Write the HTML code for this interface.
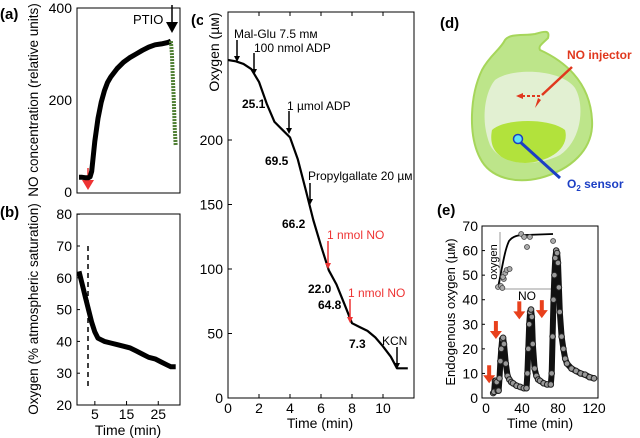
<!DOCTYPE html>
<html><head><meta charset="utf-8"><style>
html,body{margin:0;padding:0;background:#fff;}
svg{display:block;font-family:"Liberation Sans",sans-serif;}
</style></head><body>
<svg id="fig" width="640" height="438" viewBox="0 0 640 438">
<g id="static">
 <text x="0" y="19" font-size="15" font-weight="bold">(a)</text>
 <text x="0" y="217" font-size="15" font-weight="bold">(b)</text>
 <text x="191" y="25" font-size="15" font-weight="bold">(c)</text>
 <text x="440" y="28" font-size="15" font-weight="bold">(d)</text>
 <text x="437" y="215" font-size="15" font-weight="bold">(e)</text>

 <rect x="77" y="8" width="103" height="185" fill="none" stroke="#000" stroke-width="1"/>
 <rect x="77" y="214" width="103" height="191" fill="none" stroke="#000" stroke-width="1"/>
 <rect x="228" y="12" width="186" height="386" fill="none" stroke="#000" stroke-width="1"/>
 <rect x="482" y="226" width="116" height="172" fill="none" stroke="#000" stroke-width="1"/>

 <text transform="translate(38,100) rotate(-90)" text-anchor="middle" font-size="13.5">NO concentration (relative units)</text>
 <text transform="translate(38,309) rotate(-90)" text-anchor="middle" font-size="13.5">Oxygen (% atmospheric saturation)</text>
 <text x="128" y="435" text-anchor="middle" font-size="14">Time (min)</text>
 <rect x="203" y="10" width="22" height="92" fill="#fff"/>
 <text transform="translate(219,52) rotate(-90)" text-anchor="middle" font-size="14">Oxygen (µм)</text>
 <text x="320" y="428" text-anchor="middle" font-size="14">Time (min)</text>
 <text transform="translate(455,312) rotate(-90)" text-anchor="middle" font-size="13">Endogenous oxygen (µм)</text>
 <text x="540" y="428" text-anchor="middle" font-size="14">Time (min)</text>

 <text x="133" y="24" font-size="13">PTIO</text>
 <line x1="172" y1="5" x2="172" y2="24" stroke="#000" stroke-width="1.5"/>
 <polygon points="166,22 178,22 172,33" fill="#000"/>
 <line x1="88" y1="168" x2="88" y2="182" stroke="#e33" stroke-width="1.5"/>
 <polygon points="82,180 94,180 88,190" fill="#e33"/>

 <line x1="88" y1="246" x2="88" y2="390" stroke="#000" stroke-width="1.5" stroke-dasharray="5,4"/>

 <g>
  <path d="M505,40 C510,33 525,36 535,34 C545,31 550,30 548,38 C542,44 538,46 540,50 C562,60 590,80 592,120 C594,150 570,170 540,178 C515,184 490,178 480,158 C468,135 470,95 482,70 C490,55 500,50 505,40 Z" fill="#bde58a" stroke="#a6d65a" stroke-width="2"/>
  <path d="M495,80 C510,68 560,68 575,88 C585,105 582,140 560,155 C535,168 500,165 490,145 C480,120 485,92 495,80 Z" fill="#e2f0d2"/>
  <path d="M492,130 C505,118 550,118 565,130 C570,148 550,162 525,163 C500,162 488,150 492,130 Z" fill="#b2e23c"/>
 </g>
 <line x1="518" y1="140" x2="560" y2="178" stroke="#1c3fc4" stroke-width="3"/>
 <circle cx="518" cy="139" r="4.5" fill="#5fe4f5" stroke="#1c3fc4" stroke-width="1.5"/>
 <text x="567" y="188" font-size="12" font-weight="bold" fill="#1c3fc4">O<tspan font-size="8" dy="3">2</tspan><tspan dy="-3">  sensor</tspan></text>
 <text x="567" y="59" font-size="12" font-weight="bold" fill="#e0381e">NO injector</text>
 <line x1="572" y1="67" x2="542" y2="95" stroke="#e0381e" stroke-width="2.5"/>
 <line x1="540" y1="96" x2="522" y2="96" stroke="#e0381e" stroke-width="2" stroke-dasharray="3,2"/>
 <polygon points="516,96 523,93 523,99" fill="#e0381e"/>
 <polygon points="535,108 538,98 541,100" fill="#e0381e"/>

 <g>
  <line x1="500" y1="232" x2="500" y2="289" stroke="#999" stroke-width="1"/>
  <line x1="500" y1="289" x2="552" y2="289" stroke="#999" stroke-width="1"/>
  <text transform="translate(497,262) rotate(-90)" text-anchor="middle" font-size="11">oxygen</text>
  <text x="518" y="300" font-size="12">NO</text>
  <path d="M498,287 C502,270 504,252 509,241 C513,236 518,235 525,235 L553,234" fill="none" stroke="#000" stroke-width="1.8"/>
 </g>
</g>
<g id="marks"></g>
</svg>
<script>
// ---- panel (a) data ----
const aTime = [0,1,2,3,3.5,4,5,6,7,8,9,10,12,14,16,18,20,22,24,26,28,29];
const aNO = [32,32,31,31,33,45,110,160,195,220,238,250,268,282,292,300,308,315,320,322,325,328];
const aPtioTime = [29,29.3,29.6,29.9,30.2,30.5];
const aPtioNO = [328,300,250,200,140,100];
const aYTicks = [0,200,400];
// ---- panel (b) data ----
const bTime = [0,1,2,3,4,5,6,7,8,10,12,14,16,18,20,22,24,26,28,29,30.5];
const bO2 = [62,58,54,50,46,43,41,40.5,40,39.5,39,38.5,38,37,36,35,34.5,33.5,32.5,32,32];
const bYTicks = [20,30,40,50,60,70,80];
const bXTicks = [5,15,25];
// ---- panel (c) data ----
const cTime = [0,0.5,1,1.5,2,2.5,3,3.5,4,4.5,5,5.5,6,6.5,7,7.5,8,8.5,9,9.5,10,10.5,10.9,11.2,11.6];
const cO2 = [262,261,259,255,245,228,214,208,202,185,162,138,118,99,88,73,58,55,52,47,40,32,23,23,23];
const cYTicks = [0,50,100,150,200];
const cXTicks = [0,2,4,6,8,10];
// ---- panel (e) data ----
const eTime = [8,9,10,11,12,13,14,15,16,17,18,19,20,22,24,26,28,30,34,38,42,45,46,47,48,49,50,51,52,54,56,58,60,64,68,72,73,74,75,76,77,78,79,80,81,82,84,86,88,90,95,100,105,110,115,120];
const eO2 = [2,2.5,7,7,6.5,3,3,8,15,20,24,24.5,22,14,9,7.5,6.5,6,5,4.5,4,4,10,20,30,35,36,33,22,12,9,7.5,7,6,5.5,5.5,10,25,40,50,57,60,59,55,45,35,25,20,16,14,12,11,10,9.5,8.5,8];
const eYTicks = [0,10,20,30,40,50,60,70];
const eXTicks = [0,40,80,120];
const eArrowTimes = [3.5,11,37,62];
const eArrowValues = [6,24,32,32.5];
const insetNO = [0,1,1.5,2,1.7,2.5,3,4,8,9,10,11,19];
const insetO2 = [2,3,1,10,12,16,19,20,55,52,42,52,48];

const ax = t => 79 + t*3.17;
const ay = v => 192 - v*0.46;
const by = v => 405 - (v-20)*3.18;
const cx = t => 228 + t*15.5;
const cy = v => 398 - v*1.29;
const ex = t => 486 + t*0.9;
const ey = v => 398 - v*2.457;
const ix = n => 498 + n*2.9;
const iy = v => 289 - v*1.0;

const NS = "http://www.w3.org/2000/svg";
const marks = document.getElementById('marks');
function mk(tag, attrs){const e=document.createElementNS(NS,tag);for(const k in attrs)e.setAttribute(k,attrs[k]);marks.appendChild(e);return e;}
function pathD(xs,ys,fx,fy){return xs.map((x,i)=>(i?'L':'M')+fx(x).toFixed(1)+','+fy(ys[i]).toFixed(1)).join(' ');}

let p = mk('path',{d:pathD(aTime,aNO,ax,ay),fill:'none',stroke:'#000','stroke-width':5,'stroke-linejoin':'round'});


p = mk('path',{d:pathD(aPtioTime,aPtioNO,ax,ay),fill:'none',stroke:'#4f7f33','stroke-width':4,'stroke-dasharray':'2,1'});


aYTicks.forEach(v=>{
 const t=mk('text',{x:72,y:ay(v)+5,'text-anchor':'end','font-size':14});t.textContent=v;
 
 
});
p = mk('path',{d:pathD(bTime,bO2,ax,by),fill:'none',stroke:'#000','stroke-width':5,'stroke-linejoin':'round'});


bYTicks.forEach(v=>{
 const t=mk('text',{x:72,y:by(v)+5,'text-anchor':'end','font-size':14});t.textContent=v;
 
 
 mk('line',{x1:77,x2:80,y1:by(v),y2:by(v),stroke:'#000'});
});
bXTicks.forEach(v=>{
 const t=mk('text',{x:ax(v),y:419,'text-anchor':'middle','font-size':14});t.textContent=v;
 
 
 mk('line',{x1:ax(v),x2:ax(v),y1:405,y2:401,stroke:'#000'});
});
p = mk('path',{d:pathD(cTime,cO2,cx,cy),fill:'none',stroke:'#000','stroke-width':2.2,'stroke-linejoin':'round'});


cYTicks.forEach(v=>{
 const t=mk('text',{x:223,y:cy(v)+5,'text-anchor':'end','font-size':14});t.textContent=v;
 
 
 mk('line',{x1:228,x2:232,y1:cy(v),y2:cy(v),stroke:'#000'});
});
cXTicks.forEach(v=>{
 const t=mk('text',{x:cx(v),y:413,'text-anchor':'middle','font-size':14});t.textContent=v;
 
 
 mk('line',{x1:cx(v),x2:cx(v),y1:398,y2:394,stroke:'#000'});
 mk('line',{x1:cx(v),x2:cx(v),y1:12,y2:16,stroke:'#000'});
});
const ann = [
 [234,38,'Mal-Glu 7.5 mм','#000',237,40,62],
 [254,52,'100 nmol ADP','#000',254,53,75],
 [287,110,'1 µmol ADP','#000',289,111,134],
 [308,180,'Propylgallate 20 µм','#000',310,183,205],
 [327,239,'1 nmol NO','#e33',328,241,269],
 [348,297,'1 nmol NO','#e33',350,299,323],
 [382,345,'KCN','#000',397,347,369]
];
ann.forEach(a=>{
 const t=mk('text',{x:a[0],y:a[1],'font-size':12,fill:a[3]});t.textContent=a[2];
 
 
 mk('line',{x1:a[4],x2:a[4],y1:a[5],y2:a[6]-5,stroke:a[3],'stroke-width':1.5});
 mk('polygon',{points:`${a[4]-3},${a[6]-6} ${a[4]+3},${a[6]-6} ${a[4]},${a[6]}`,fill:a[3]});
});
const rates=[[242,108,'25.1'],[265,165,'69.5'],[282,228,'66.2'],[308,293,'22.0'],[318,309,'64.8'],[349,348,'7.3']];
rates.forEach(r=>{
 const t=mk('text',{x:r[0],y:r[1],'font-size':12,'font-weight':'bold'});t.textContent=r[2];
 
 
});
p = mk('path',{d:pathD(eTime,eO2,ex,ey),fill:'none',stroke:'#111','stroke-width':6,'stroke-linejoin':'round'});


eTime.forEach((t,i)=>{
 const c=mk('circle',{cx:ex(t),cy:ey(eO2[i]),r:2.8,fill:'#999',stroke:'#222','stroke-width':1});
 
 
});
eYTicks.forEach(v=>{
 const t=mk('text',{x:478,y:ey(v)+5,'text-anchor':'end','font-size':14});t.textContent=v;
 
 
 mk('line',{x1:482,x2:485,y1:ey(v),y2:ey(v),stroke:'#000'});
});
eXTicks.forEach(v=>{
 const t=mk('text',{x:ex(v),y:413,'text-anchor':'middle','font-size':14});t.textContent=v;
 
 
});
eArrowTimes.forEach((t,i)=>{
 const x=ex(t), y=ey(eArrowValues[i]);
 mk('line',{x1:x,x2:x,y1:y-18,y2:y-7,stroke:'#e8401c','stroke-width':4});
 const a=mk('polygon',{points:`${x-6},${y-8} ${x+6},${y-8} ${x},${y}`,fill:'#e8401c'});
 
 
});
insetNO.forEach((n,i)=>{
 const c=mk('circle',{cx:ix(n),cy:iy(insetO2[i]),r:2.5,fill:'#aaa',stroke:'#444','stroke-width':0.8});
 
 
});
</script>
</body></html>
